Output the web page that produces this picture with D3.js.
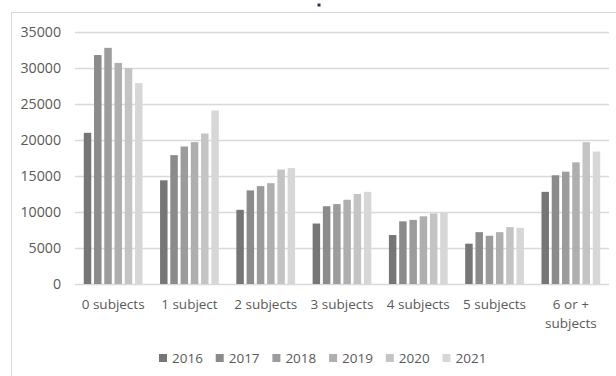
<!DOCTYPE html>
<html>
<head>
<meta charset="utf-8">
<script src="https://cdn.jsdelivr.net/npm/d3@7"></script>
<style>
  body { margin: 0; background: #fff; }
  text { font-family: "Open Sans", sans-serif; fill: #595959; }
</style>
</head>
<body>
<div id="chart"></div>
<script>
const categories = ["0 subjects", "1 subject", "2 subjects", "3 subjects", "4 subjects", "5 subjects", "6 or + subjects"];
const years = ["2016", "2017", "2018", "2019", "2020", "2021"];
const values2016 = [21000, 14400, 10300, 8400, 6800, 5600, 12800];
const values2017 = [31800, 17900, 13000, 10800, 8700, 7200, 15100];
const values2018 = [32800, 19100, 13600, 11100, 8900, 6700, 15600];
const values2019 = [30700, 19700, 14000, 11700, 9400, 7200, 16900];
const values2020 = [30000, 20900, 15900, 12500, 9800, 7900, 19700];
const values2021 = [27900, 24100, 16100, 12800, 10000, 7800, 18400];
const yTicks = [0, 5000, 10000, 15000, 20000, 25000, 30000, 35000];
const colors = ["#767676", "#8b8b8b", "#9c9c9c", "#afafaf", "#c4c4c4", "#d7d7d7"];

const series = [values2016, values2017, values2018, values2019, values2020, values2021];

const W = 616, H = 376;
const margin = {top: 32, right: 7, bottom: 92, left: 75};
const width = W - margin.left - margin.right, height = H - margin.top - margin.bottom;

const svg = d3.select("#chart").append("svg")
  .attr("width", W).attr("height", H);

// chart frame (cut off at right / bottom like the source)
svg.append("rect")
  .attr("x", 11.5).attr("y", 12.5)
  .attr("width", W).attr("height", H)
  .attr("fill", "none").attr("stroke", "#d9d9d9");

svg.append("rect")
  .attr("x", 317.5).attr("y", 3.5).attr("width", 3).attr("height", 3)
  .attr("fill", "#2a3050");

const g = svg.append("g").attr("transform", `translate(${margin.left},${margin.top})`);

const x0 = d3.scaleBand().domain(categories).range([0, width]).paddingInner(0.23).paddingOuter(0.115);
const x1 = d3.scaleBand().domain(years).range([0, x0.bandwidth()]).paddingInner(0.27);
const y = d3.scaleLinear().domain([0, 35000]).range([height, 0]);

// gridlines
g.append("g")
  .selectAll("line")
  .data(yTicks)
  .join("line")
  .attr("x1", 0).attr("x2", width)
  .attr("y1", d => Math.round(y(d)) + 0.5).attr("y2", d => Math.round(y(d)) + 0.5)
  .attr("stroke", "#d9d9d9").attr("stroke-width", 1.3);

// y labels
g.append("g")
  .selectAll("text")
  .data(yTicks)
  .join("text")
  .attr("x", -14).attr("y", d => y(d))
  .attr("dy", "0.35em")
  .attr("text-anchor", "end")
  .style("font-size", "14.2px")
  .text(d => d);

// bars
categories.forEach((c, i) => {
  const grp = g.append("g").attr("transform", `translate(${x0(c)},0)`);
  grp.selectAll("rect")
    .data(years.map((yr, j) => ({yr, v: series[j][i], col: colors[j]})))
    .join("rect")
    .attr("x", d => x1(d.yr))
    .attr("width", x1.bandwidth())
    .attr("y", d => y(d.v))
    .attr("height", d => y(0) - y(d.v))
    .attr("fill", d => d.col);
});

// x labels
const xl = g.append("g")
  .selectAll("text")
  .data(categories)
  .join("text")
  .attr("x", d => x0(d) + x0.bandwidth() / 2)
  .attr("y", height + 25)
  .attr("text-anchor", "middle")
  .style("font-size", "13.5px");
xl.each(function(d) {
  const t = d3.select(this);
  if (d === "6 or + subjects") {
    t.append("tspan").attr("x", x0(d) + x0.bandwidth() / 2).text("6 or +");
    t.append("tspan").attr("x", x0(d) + x0.bandwidth() / 2).attr("dy", 19).text("subjects");
  } else {
    t.text(d);
  }
});

// legend
const legend = svg.append("g").attr("transform", "translate(159,354)");
const item = legend.selectAll("g")
  .data(years)
  .join("g")
  .attr("transform", (d, i) => `translate(${i * 56.7},0)`);
item.append("rect")
  .attr("width", 8).attr("height", 8)
  .attr("fill", (d, i) => colors[i]);
item.append("text")
  .attr("x", 13).attr("y", 4)
  .attr("dy", "0.35em")
  .style("font-size", "13.5px")
  .text(d => d);
</script>
</body>
</html>
